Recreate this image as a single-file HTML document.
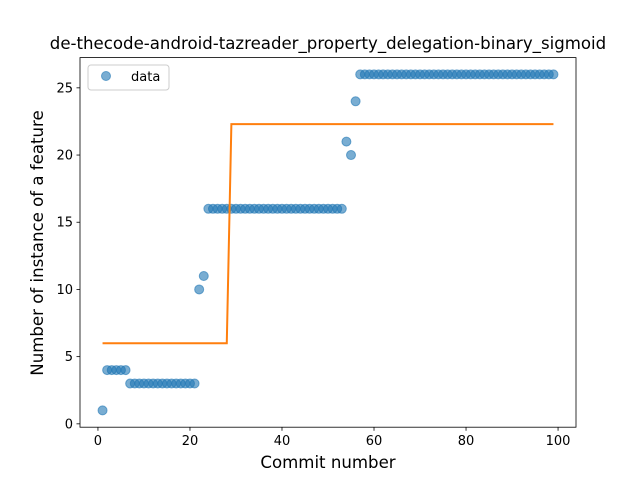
<!DOCTYPE html>
<html><head><meta charset="utf-8"><style>body{margin:0;background:#fff}svg{display:block;font-family:"DejaVu Sans","Liberation Sans",sans-serif}</style></head>
<body>
<svg id="chart" width="640" height="480">
<rect width="640" height="480" fill="#fff"/>
<text x="328" y="49" font-size="16.6" text-anchor="middle">de-thecode-android-tazreader_property_delegation-binary_sigmoid</text>
<g id="plot"></g>
<text x="328" y="468" font-size="16.6" text-anchor="middle">Commit number</text>
<text transform="translate(43,243) rotate(-90)" font-size="16.6" text-anchor="middle">Number of instance of a feature</text>
<g>
<rect x="88" y="65" width="81" height="25" rx="3" fill="#fff" stroke="#ccc"/>
<circle cx="106" cy="76" r="4.5" fill="#1f77b4" fill-opacity="0.6" stroke="#1f77b4" stroke-opacity="0.6"/>
<text x="131" y="81" font-size="13">data</text>
</g>
</svg>
<script>
const xs = [1,2,3,4,5,6,7,8,9,10,11,12,13,14,15,16,17,18,19,20,21,22,23,24,25,26,27,28,29,30,31,32,33,34,35,36,37,38,39,40,41,42,43,44,45,46,47,48,49,50,51,52,53,54,55,56,57,58,59,60,61,62,63,64,65,66,67,68,69,70,71,72,73,74,75,76,77,78,79,80,81,82,83,84,85,86,87,88,89,90,91,92,93,94,95,96,97,98,99];
const dataVals = [1,4,4,4,4,4,3,3,3,3,3,3,3,3,3,3,3,3,3,3,3,10,11,16,16,16,16,16,16,16,16,16,16,16,16,16,16,16,16,16,16,16,16,16,16,16,16,16,16,16,16,16,16,21,20,24,26,26,26,26,26,26,26,26,26,26,26,26,26,26,26,26,26,26,26,26,26,26,26,26,26,26,26,26,26,26,26,26,26,26,26,26,26,26,26,26,26,26,26];
const fitVals = [6,6,6,6,6,6,6,6,6,6,6,6,6,6,6,6,6,6,6,6,6,6,6,6,6,6,6,6,22.3,22.3,22.3,22.3,22.3,22.3,22.3,22.3,22.3,22.3,22.3,22.3,22.3,22.3,22.3,22.3,22.3,22.3,22.3,22.3,22.3,22.3,22.3,22.3,22.3,22.3,22.3,22.3,22.3,22.3,22.3,22.3,22.3,22.3,22.3,22.3,22.3,22.3,22.3,22.3,22.3,22.3,22.3,22.3,22.3,22.3,22.3,22.3,22.3,22.3,22.3,22.3,22.3,22.3,22.3,22.3,22.3,22.3,22.3,22.3,22.3,22.3,22.3,22.3,22.3,22.3,22.3,22.3,22.3,22.3,22.3];
const xTicks = [0,20,40,60,80,100];
const yTicks = [0,5,10,15,20,25];

const L=80,R=576,T=57.6,B=427.2;
const xmin=-3.9,xmax=103.9,ymin=-0.25,ymax=27.25;
const sx=v=>L+(v-xmin)/(xmax-xmin)*(R-L);
const sy=v=>B-(v-ymin)/(ymax-ymin)*(B-T);
const NS='http://www.w3.org/2000/svg';
const g=document.getElementById('plot');
function mk(t,a,p){const e=document.createElementNS(NS,t);for(const k in a)e.setAttribute(k,a[k]);(p||g).appendChild(e);return e;}
xs.forEach((x,i)=>{
  const c=mk('circle',{cx:sx(x),cy:sy(dataVals[i]),r:4.5,fill:'#1f77b4','fill-opacity':0.6,stroke:'#1f77b4','stroke-opacity':0.6});
  
  
});
const line=mk('polyline',{points:xs.map((x,i)=>sx(x)+','+sy(fitVals[i])).join(' '),fill:'none',stroke:'#ff7f0e','stroke-width':2});


const frame=mk('rect',{x:L,y:T,width:R-L,height:B-T,fill:'none',stroke:'#000','stroke-width':0.8});


xTicks.forEach(t=>{
  const x=sx(t);
  const tk=mk('line',{x1:x,x2:x,y1:B,y2:B+3.5,stroke:'#000','stroke-width':0.8});
  
  
  const tx=mk('text',{x:x,y:B+18,'font-size':13,'text-anchor':'middle'});
  tx.textContent=t;
  
  
});
yTicks.forEach(t=>{
  const y=sy(t);
  const tk=mk('line',{x1:L-3.5,x2:L,y1:y,y2:y,stroke:'#000','stroke-width':0.8});
  
  
  const tx=mk('text',{x:L-7,y:y+4.5,'font-size':13,'text-anchor':'end'});
  tx.textContent=t;
  
  
});
</script>
</body></html>
